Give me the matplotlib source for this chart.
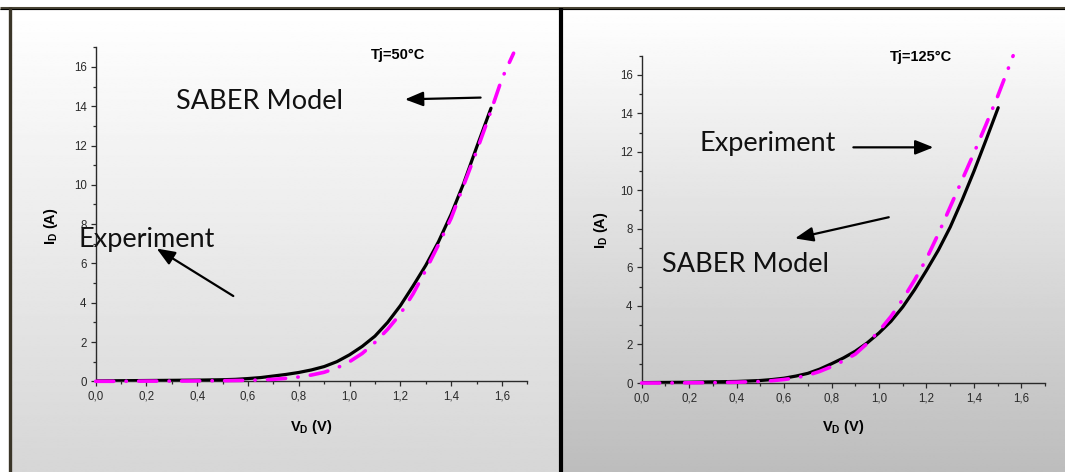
import numpy as np
import matplotlib
matplotlib.use("Agg")
import matplotlib.pyplot as plt
from matplotlib.ticker import MultipleLocator, FuncFormatter

plt.rcParams["font.family"] = ["Liberation Sans", "DejaVu Sans"]
plt.rcParams["mathtext.fontset"] = "custom"
plt.rcParams["mathtext.rm"] = "Liberation Sans"
plt.rcParams["mathtext.bf"] = "Liberation Sans:bold"

# forward characteristics, Tj = 50 C
vd_exp_50 = [0.0, 0.1, 0.2, 0.3, 0.4, 0.5, 0.55, 0.6, 0.65, 0.7, 0.75, 0.8, 0.85, 0.9, 0.95,
             1.0, 1.05, 1.1, 1.15, 1.2, 1.25, 1.3, 1.35, 1.4, 1.45, 1.5, 1.557]
id_exp_50 = [0.02, 0.03, 0.04, 0.05, 0.06, 0.08, 0.1, 0.14, 0.19, 0.27, 0.35, 0.45, 0.58, 0.75, 1.0,
             1.35, 1.78, 2.3, 3.0, 3.85, 4.85, 5.9, 7.1, 8.5, 10.1, 11.9, 13.9]
vd_mod_50 = [0.0, 0.1, 0.2, 0.3, 0.4, 0.5, 0.6, 0.65, 0.7, 0.75, 0.8, 0.85, 0.9, 0.95, 1.0,
             1.05, 1.1, 1.15, 1.2, 1.25, 1.3, 1.35, 1.4, 1.45, 1.5, 1.55, 1.6, 1.646]
id_mod_50 = [0.0, 0.0, 0.01, 0.01, 0.02, 0.03, 0.05, 0.07, 0.1, 0.15, 0.22, 0.32, 0.46, 0.68, 1.0,
             1.42, 1.98, 2.65, 3.43, 4.45, 5.65, 6.95, 8.3, 10.0, 11.7, 13.5, 15.4, 16.7]

# forward characteristics, Tj = 125 C
vd_exp_125 = [0.0, 0.1, 0.2, 0.3, 0.4, 0.5, 0.55, 0.6, 0.65, 0.7, 0.75, 0.8, 0.85, 0.9, 0.95,
              1.0, 1.05, 1.1, 1.15, 1.2, 1.25, 1.3, 1.35, 1.4, 1.45, 1.502]
id_exp_125 = [0.02, 0.03, 0.04, 0.06, 0.08, 0.13, 0.18, 0.25, 0.36, 0.5, 0.72, 1.0, 1.3, 1.65, 2.08,
              2.6, 3.2, 3.95, 4.85, 5.85, 6.9, 8.1, 9.5, 11.0, 12.6, 14.3]
vd_mod_125 = [0.0, 0.1, 0.2, 0.3, 0.4, 0.5, 0.55, 0.6, 0.65, 0.7, 0.75, 0.8, 0.85, 0.9, 0.95,
              1.0, 1.05, 1.1, 1.15, 1.2, 1.25, 1.3, 1.35, 1.4, 1.45, 1.5, 1.565]
id_mod_125 = [0.0, 0.0, 0.01, 0.02, 0.04, 0.08, 0.12, 0.18, 0.27, 0.4, 0.6, 0.85, 1.15, 1.5, 2.05,
              2.7, 3.45, 4.35, 5.35, 6.45, 7.75, 9.15, 10.55, 11.95, 13.4, 14.9, 17.0]

W, H = 1065, 472
fig = plt.figure(figsize=(W / 100, H / 100), dpi=100)

# page background: two grey gradient panels with frame lines
bg = fig.add_axes([0, 0, 1, 1])
bg.set_xlim(0, W)
bg.set_ylim(H, 0)
bg.axis("off")
bg.add_patch(plt.Rectangle((0, 0), W, H, color="white", zorder=0))


def gradient(x0, x1, y0, y1, bottom_grey):
    col = np.linspace(1.0, bottom_grey, 256)[:, None]
    bg.imshow(col, cmap="gray", vmin=0, vmax=1, aspect="auto",
              extent=(x0, x1, y1, y0), zorder=1, interpolation="bilinear")


gradient(10, 561, 9, H, 0.84)
gradient(561, W, 9, H, 0.74)
bg.plot([0, W], [7.5, 7.5], color="#4a4535", lw=2.2, zorder=3, solid_capstyle="butt")
bg.plot([0, W], [9.3, 9.3], color="black", lw=0.8, zorder=3, solid_capstyle="butt")
bg.plot([9.5, 9.5], [7, H], color="#3a3528", lw=2.4, zorder=3, solid_capstyle="butt")
bg.plot([561, 561], [8, H], color="black", lw=3.0, zorder=3, solid_capstyle="butt")

ax1 = fig.add_axes([95.7 / W, 1 - 381.3 / H, (527.3 - 95.7) / W, (381.3 - 47.3) / H])
ax2 = fig.add_axes([641.6 / W, 1 - 383.0 / H, (1045.2 - 641.6) / W, (383.0 - 55.7) / H])

comma = FuncFormatter(lambda v, p: f"{v:.1f}".replace(".", ","))

panels = [
    (ax1, vd_exp_50, id_exp_50, vd_mod_50, id_mod_50, "Tj=50°C", 1.084, 16.4),
    (ax2, vd_exp_125, id_exp_125, vd_mod_125, id_mod_125, "Tj=125°C", 1.046, 16.7),
]

for ax, vx, ix, vm, im, title, tx, ty in panels:
    ax.patch.set_alpha(0)
    ax.plot(vx, ix, color="black", lw=2.3, solid_capstyle="round", zorder=3)
    ax.plot(vm, im, color="#ff00ff", lw=2.6, dashes=(5.0, 3.4, 0.1, 3.4),
            dash_capstyle="round", zorder=4, clip_on=False)
    ax.set_xlim(0, 1.7)
    ax.set_ylim(0, 17)
    ax.spines[["top", "right"]].set_visible(False)
    for s in ("left", "bottom"):
        ax.spines[s].set_color("#2a2a2a")
        ax.spines[s].set_linewidth(1.0)
    ax.xaxis.set_major_locator(MultipleLocator(0.2))
    ax.xaxis.set_minor_locator(MultipleLocator(0.1))
    ax.yaxis.set_major_locator(MultipleLocator(2))
    ax.yaxis.set_minor_locator(MultipleLocator(1))
    ax.xaxis.set_major_formatter(comma)
    ax.tick_params(which="both", direction="out", colors="#2a2a2a", labelsize=8.3, width=0.9)
    ax.tick_params(which="major", length=3.5, pad=3)
    ax.tick_params(which="minor", length=2.2)
    ax.text(tx, ty, title, fontsize=10.5, fontweight="bold", ha="left", va="baseline")
    ax.set_xlabel(r"$\mathbf{V_D}$ (V)", fontsize=10.5, fontweight="bold")
    ax.set_ylabel(r"$\mathbf{I_D}$ (A)", fontsize=10.5, fontweight="bold")

ax1.xaxis.set_label_coords(0.5, -0.11)
ax1.yaxis.set_label_coords(-0.083, 0.463)
ax2.xaxis.set_label_coords(0.5, -0.107)
ax2.yaxis.set_label_coords(-0.078, 0.467)

big = dict(family=["Lato", "DejaVu Sans"], fontsize=19.5, color="#111111",
           ha="left", va="baseline", zorder=5)
arrow = dict(arrowstyle="-|>,head_length=0.55,head_width=0.22", color="black",
             lw=1.6, mutation_scale=20, shrinkA=0, shrinkB=0)

ax1.text(0.315, 13.88, "SABER Model", **big)
ax1.annotate("", xy=(1.218, 14.35), xytext=(1.516, 14.44), arrowprops=arrow,
             annotation_clip=False)
ax1.text(-0.068, 6.84, "Experiment", clip_on=False, **big)
ax1.annotate("", xy=(0.240, 6.76), xytext=(0.542, 4.34), arrowprops=arrow,
             annotation_clip=False)

ax2.text(0.244, 12.03, "Experiment", **big)
ax2.annotate("", xy=(1.229, 12.24), xytext=(0.892, 12.24), arrowprops=arrow,
             annotation_clip=False)
ax2.text(0.0876, 5.76, "SABER Model", **big)
ax2.annotate("", xy=(0.646, 7.51), xytext=(1.041, 8.61), arrowprops=arrow,
             annotation_clip=False)

fig.savefig("out.png", dpi=100)
